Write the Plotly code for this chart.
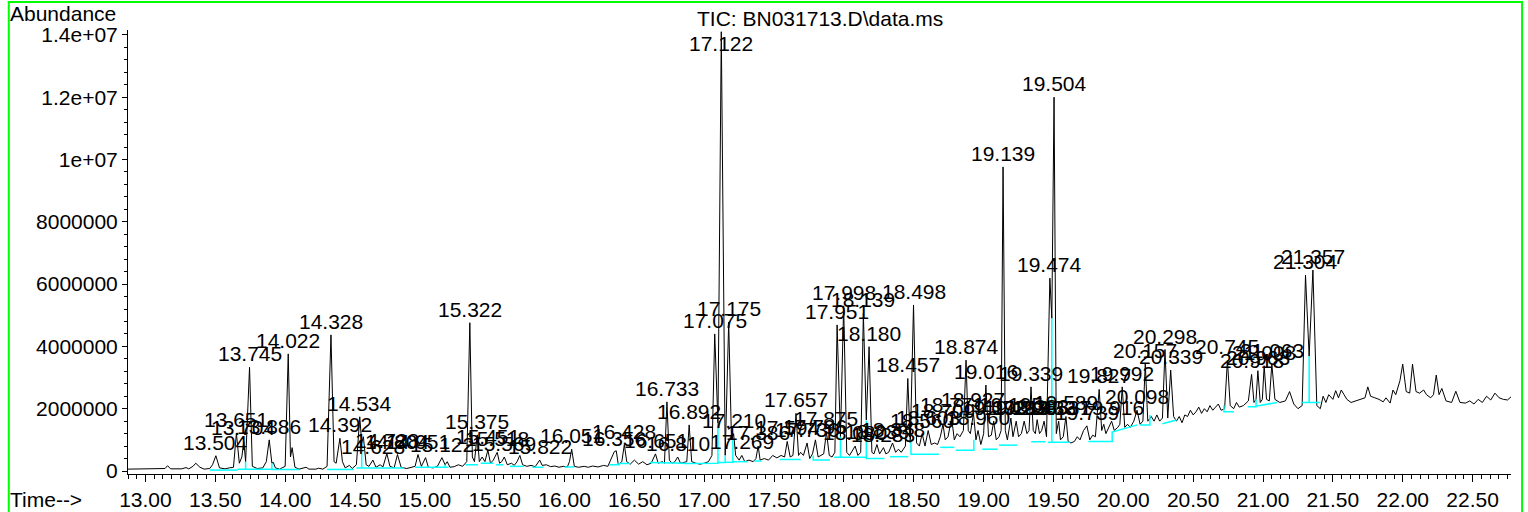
import plotly.graph_objects as go

# ---------------- data (time in min, abundance in millions) ----------------
tic_time = [
    12.875, 13.10, 13.14, 13.158, 13.18, 13.26, 13.29, 13.31, 13.34, 13.36,
    13.39, 13.42, 13.46, 13.48, 13.504, 13.53, 13.57, 13.60, 13.63, 13.651,
    13.672, 13.69, 13.704, 13.717, 13.745, 13.765, 13.80, 13.84, 13.865, 13.886,
    13.905, 13.915, 13.93, 13.96, 14.00, 14.022, 14.038, 14.05, 14.07, 14.10,
    14.15, 14.17, 14.22, 14.24, 14.27, 14.30, 14.328, 14.35, 14.365, 14.392,
    14.41, 14.43, 14.46, 14.48, 14.51, 14.534, 14.548, 14.56, 14.58, 14.60,
    14.628, 14.65, 14.68, 14.70, 14.728, 14.75, 14.78, 14.804, 14.83, 14.87,
    14.90, 14.93, 14.951, 14.975, 15.005, 15.025, 15.06, 15.09, 15.122, 15.145,
    15.16, 15.18, 15.21, 15.24, 15.27, 15.30, 15.322, 15.34, 15.355, 15.375,
    15.39, 15.41, 15.43, 15.451, 15.47, 15.49, 15.518, 15.535, 15.55, 15.569,
    15.59, 15.62, 15.64, 15.66, 15.68, 15.70, 15.73, 15.76, 15.79, 15.822,
    15.84, 15.87, 15.90, 15.93, 15.96, 15.99, 16.02, 16.035, 16.051, 16.07,
    16.10, 16.14, 16.17, 16.20, 16.24, 16.28, 16.31, 16.34, 16.356, 16.37,
    16.385, 16.41, 16.428, 16.445, 16.47, 16.50, 16.53, 16.56, 16.59, 16.62,
    16.651, 16.67, 16.70, 16.715, 16.733, 16.75, 16.77, 16.79, 16.81, 16.83,
    16.86, 16.875, 16.892, 16.91, 16.94, 16.97, 17.00, 17.03, 17.055, 17.075,
    17.098, 17.122, 17.15, 17.175, 17.195, 17.21, 17.225, 17.25, 17.269, 17.29,
    17.32, 17.35, 17.37, 17.386, 17.40, 17.43, 17.46, 17.49, 17.52, 17.55,
    17.575, 17.594, 17.615, 17.635, 17.657, 17.675, 17.69, 17.71, 17.736, 17.755,
    17.775, 17.796, 17.815, 17.84, 17.855, 17.875, 17.895, 17.915, 17.935, 17.951,
    17.975, 17.998, 18.02, 18.04, 18.06, 18.08, 18.10, 18.12, 18.139, 18.16,
    18.18, 18.20, 18.215, 18.236, 18.255, 18.283, 18.30, 18.32, 18.348, 18.37,
    18.39, 18.41, 18.44, 18.457, 18.475, 18.498, 18.52, 18.54, 18.56, 18.58,
    18.603, 18.625, 18.65, 18.67, 18.69, 18.709, 18.725, 18.745, 18.771, 18.79,
    18.81, 18.83, 18.855, 18.874, 18.89, 18.905, 18.927, 18.945, 18.96, 18.98,
    19.00, 19.016, 19.035, 19.055, 19.072, 19.09, 19.11, 19.125, 19.139, 19.155,
    19.17, 19.195, 19.21, 19.233, 19.25, 19.27, 19.29, 19.31, 19.325, 19.339,
    19.355, 19.37, 19.383, 19.40, 19.415, 19.433, 19.45, 19.474, 19.488, 19.504,
    19.52, 19.537, 19.55, 19.57, 19.589, 19.605, 19.625, 19.65, 19.67, 19.69,
    19.715, 19.739, 19.76, 19.78, 19.80, 19.827, 19.845, 19.86, 19.875, 19.895,
    19.916, 19.935, 19.96, 19.975, 19.992, 20.01, 20.03, 20.05, 20.075, 20.098,
    20.12, 20.14, 20.157, 20.175, 20.20, 20.22, 20.24, 20.26, 20.28, 20.298,
    20.318, 20.339, 20.36, 20.38, 20.40, 20.42, 20.44, 20.46, 20.48, 20.50,
    20.52, 20.54, 20.56, 20.58, 20.60, 20.62, 20.64, 20.66, 20.68, 20.70,
    20.725, 20.745, 20.765, 20.79, 20.81, 20.83, 20.86, 20.895, 20.918, 20.935,
    20.95, 20.963, 20.98, 20.995, 21.008, 21.025, 21.045, 21.063, 21.085, 21.12,
    21.16, 21.19, 21.22, 21.25, 21.28, 21.304, 21.33, 21.357, 21.385, 21.41,
    21.43, 21.45, 21.47, 21.50, 21.52, 21.54, 21.56, 21.58, 21.60, 21.63,
    21.66, 21.70, 21.73, 21.75, 21.77, 21.80, 21.83, 21.86, 21.88, 21.91,
    21.93, 21.95, 21.98, 22.00, 22.025, 22.05, 22.07, 22.095, 22.12, 22.15,
    22.17, 22.20, 22.22, 22.24, 22.26, 22.28, 22.31, 22.35, 22.38, 22.41,
    22.45, 22.48, 22.51, 22.54, 22.57, 22.60, 22.63, 22.66, 22.69, 22.72,
    22.75, 22.775,
]
tic_abund = [
    0.06, 0.06, 0.08, 0.17, 0.07, 0.07, 0.11, 0.07, 0.15, 0.25,
    0.12, 0.06, 0.08, 0.20, 0.49, 0.10, 0.07, 0.10, 0.12, 1.21,
    0.25, 0.45, 0.95, 0.30, 3.33, 0.15, 0.08, 0.10, 0.30, 1.00,
    0.25, 0.28, 0.10, 0.06, 0.15, 3.76, 0.45, 0.75, 0.12, 0.06,
    0.12, 0.06, 0.06, 0.09, 0.06, 0.15, 4.37, 0.30, 0.25, 1.05,
    0.30, 0.10, 0.18, 0.08, 0.20, 1.74, 0.90, 1.10, 0.20, 0.15,
    0.35, 0.12, 0.20, 0.13, 0.56, 0.15, 0.10, 0.53, 0.12, 0.08,
    0.12, 0.15, 0.53, 0.15, 0.43, 0.12, 0.10, 0.15, 0.43, 0.20,
    0.30, 0.12, 0.14, 0.20, 0.15, 0.30, 4.76, 0.45, 0.30, 1.16,
    0.30, 0.45, 0.30, 0.67, 0.25, 0.35, 0.60, 0.25, 0.30, 0.45,
    0.20, 0.25, 0.18, 0.30, 0.50, 0.20, 0.15, 0.18, 0.14, 0.35,
    0.18, 0.20, 0.14, 0.16, 0.12, 0.15, 0.13, 0.30, 0.70, 0.15,
    0.12, 0.15, 0.12, 0.16, 0.13, 0.18, 0.15, 0.45, 0.62, 0.65,
    0.20, 0.30, 0.85, 0.30, 0.22, 0.35, 0.22, 0.30, 0.20, 0.25,
    0.55, 0.25, 0.30, 0.25, 2.22, 0.35, 0.25, 0.30, 0.45, 0.25,
    0.28, 0.30, 1.48, 0.30, 0.25, 0.22, 0.25, 0.30, 0.50, 4.40,
    1.53, 14.10, 0.50, 4.78, 1.00, 1.20, 0.50, 0.35, 0.50, 0.30,
    0.35, 0.30, 0.40, 0.80, 0.35, 0.40, 0.35, 0.50, 0.42, 0.50,
    0.45, 0.95, 0.45, 0.50, 1.85, 0.50, 0.60, 0.50, 0.90, 0.40,
    0.55, 1.00, 0.45, 0.50, 0.55, 1.25, 0.50, 0.45, 0.60, 4.69,
    1.10, 5.30, 0.60, 0.50, 0.65, 0.80, 0.50, 0.60, 5.06, 1.64,
    3.99, 0.60, 0.55, 0.85, 0.55, 0.75, 0.55, 0.60, 0.90, 0.60,
    0.70, 0.60, 0.80, 2.97, 0.90, 5.33, 0.90, 0.80, 1.20, 0.80,
    1.30, 0.85, 0.90, 0.85, 1.10, 1.50, 1.00, 1.10, 1.70, 1.00,
    1.20, 1.10, 1.30, 3.56, 1.30, 1.20, 1.86, 1.00, 1.30, 0.85,
    1.20, 2.76, 1.10, 1.15, 1.60, 1.00, 1.10, 1.30, 9.76, 1.30,
    1.00, 1.70, 1.10, 1.60, 1.10, 1.20, 1.60, 1.20, 1.30, 2.70,
    1.30, 1.20, 1.65, 1.20, 1.30, 1.60, 1.10, 6.19, 4.90, 12.00,
    1.20, 1.60, 1.00, 1.10, 1.75, 0.95, 0.90, 0.95, 1.10, 1.00,
    1.30, 1.45, 1.00, 1.15, 1.10, 2.62, 1.30, 1.50, 1.20, 1.40,
    1.60, 1.30, 1.40, 1.50, 2.70, 1.40, 1.50, 1.40, 1.60, 1.95,
    1.50, 1.60, 3.45, 1.60, 1.75, 1.60, 1.80, 1.60, 1.70, 3.90,
    1.70, 3.24, 1.75, 1.60, 1.75, 1.55, 1.80, 1.75, 1.95, 1.80,
    1.90, 2.05, 1.85, 2.00, 1.90, 2.10, 1.95, 2.05, 2.15, 1.95,
    2.00, 3.55, 2.10, 2.00, 2.20, 2.05, 2.10, 2.25, 3.10, 2.20,
    2.30, 3.22, 2.20, 2.30, 3.38, 2.30, 2.25, 3.44, 2.30, 2.20,
    2.25, 2.55, 2.15, 2.00, 2.10, 6.29, 3.69, 6.45, 2.10, 2.00,
    2.40, 2.20, 2.45, 2.30, 2.58, 2.35, 2.60, 2.45, 2.30, 2.20,
    2.25, 2.30, 2.35, 2.70, 2.40, 2.35, 2.30, 2.22, 2.35, 2.18,
    2.60, 2.45, 2.90, 3.43, 2.55, 2.50, 3.43, 2.55, 2.50, 2.60,
    2.45, 2.35, 2.45, 3.08, 2.45, 2.65, 2.25, 2.20, 2.56, 2.20,
    2.18, 2.25, 2.15, 2.30, 2.20, 2.40, 2.28, 2.50, 2.35, 2.30,
    2.28, 2.38,
]

# integration baselines (cyan), None separates events
cyan_time = [
    13.46, 13.66, None,
    13.66, 13.717, 13.717, 13.717, 13.905, 13.905, 13.905, 14.10, None,
    14.30, 14.49, None,
    14.51, 14.548, 14.548, 14.548, 14.85, None,
    14.93, 15.145, 15.145, 15.145, 15.17, None,
    15.29, 15.38, None,
    15.40, 15.49, None,
    15.51, 15.56, None,
    15.61, 15.71, None,
    15.77, 15.85, None,
    16.00, 16.07, None,
    16.32, 16.39, 16.39, 16.47, None,
    16.61, 16.71, 16.71, 16.86, 16.86, 17.05, 17.05, 17.098, 17.098, 17.098,
    17.15, 17.15, 17.15, 17.205, 17.205, 17.205, 17.235, None,
    17.24, 17.31, None,
    17.36, 17.41, None,
    17.54, 17.69, None,
    17.78, 17.78, 17.90, None,
    17.93, 17.975, 17.975, 17.975, 18.16, 18.16, 18.16, 18.29, None,
    18.33, 18.46, None,
    18.48, 18.48, 18.68, None,
    18.69, 18.79, None,
    18.80, 18.93, 18.93, None,
    18.99, 19.10, None,
    19.11, 19.24, None,
    19.34, 19.44, None,
    19.46, 19.488, 19.488, 19.488, 19.62, None,
    19.75, 19.92, 19.92, 20.10, None,
    20.12, 20.19, 20.19, None,
    20.28, 20.38, None,
    20.72, 20.72, 20.79, None,
    20.89, 20.95, 20.95, 20.95, 21.10, None,
    21.28, 21.33, 21.33, 21.33, 21.41,
]
cyan_abund = [
    0.03, 0.03, None,
    0.06, 0.06, 0.30, 0.06, 0.06, 0.25, 0.05, 0.05, None,
    0.05, 0.05, None,
    0.10, 0.10, 0.90, 0.10, 0.10, None,
    0.12, 0.12, 0.20, 0.12, 0.12, None,
    0.20, 0.20, None,
    0.25, 0.25, None,
    0.20, 0.20, None,
    0.15, 0.15, None,
    0.12, 0.12, None,
    0.13, 0.13, None,
    0.20, 0.20, 0.24, 0.24, None,
    0.27, 0.27, 0.25, 0.25, 0.24, 0.24, 0.25, 0.25, 1.53, 0.27,
    0.27, 0.50, 0.28, 0.28, 1.05, 0.30, 0.30, None,
    0.30, 0.30, None,
    0.32, 0.32, None,
    0.37, 0.37, None,
    0.50, 0.35, 0.35, None,
    0.44, 0.44, 1.10, 0.44, 0.44, 1.62, 0.40, 0.40, None,
    0.46, 0.46, None,
    1.00, 0.54, 0.54, None,
    0.76, 0.76, None,
    0.67, 0.67, 1.00, None,
    0.70, 0.70, None,
    0.83, 0.83, None,
    0.94, 0.94, None,
    0.92, 0.92, 4.90, 0.92, 0.92, None,
    0.95, 0.95, 1.25, 1.48, None,
    1.48, 1.48, 1.80, None,
    1.52, 1.64, None,
    2.10, 1.90, 1.90, None,
    2.06, 2.06, 2.30, 2.08, 2.20, None,
    2.20, 2.20, 3.69, 2.20, 2.20,
]

# labelled retention times
label_times = [
    13.504, 13.651, 13.704, 13.745, 13.886, 14.022, 14.328, 14.392, 14.534, 14.628,
    14.728, 14.804, 14.951, 15.122, 15.322, 15.375, 15.451, 15.518, 15.569, 15.822,
    16.051, 16.356, 16.428, 16.651, 16.733, 16.81, 16.892, 17.075, 17.122, 17.175,
    17.21, 17.269, 17.386, 17.594, 17.657, 17.736, 17.796, 17.875, 17.951, 17.998,
    18.08, 18.139, 18.18, 18.236, 18.283, 18.348, 18.457, 18.498, 18.56, 18.603,
    18.709, 18.771, 18.874, 18.927, 18.96, 19.016, 19.072, 19.139, 19.195, 19.233,
    19.29, 19.339, 19.383, 19.433, 19.474, 19.504, 19.537, 19.589, 19.739, 19.827,
    19.916, 19.992, 20.098, 20.157, 20.298, 20.339, 20.745, 20.918, 20.963, 21.008,
    21.063, 21.304, 21.357,
]

x_tick_vals = [13.0, 13.5, 14.0, 14.5, 15.0, 15.5, 16.0, 16.5, 17.0, 17.5,
               18.0, 18.5, 19.0, 19.5, 20.0, 20.5, 21.0, 21.5, 22.0, 22.5]
y_tick_vals = [0, 2e6, 4e6, 6e6, 8e6, 1e7, 1.2e7, 1.4e7]
y_tick_text = ["0", "2000000", "4000000", "6000000", "8000000",
               "1e+07", "1.2e+07", "1.4e+07"]

title_text = "TIC: BN031713.D\\data.ms"
y_title = "Abundance"
x_title = "Time-->"

# ---------------------------------------------------------------------------
SCALE = 1e6
FONT = "Arial, Liberation Sans, sans-serif"
FS = 21
Y_MIN, Y_MAX = -9.6e4, 1.4156e7
X_MIN, X_MAX = 12.875, 22.775

tic_y = [v * SCALE for v in tic_abund]
cyan_y = [None if v is None else v * SCALE for v in cyan_abund]

fig = go.Figure()
fig.add_trace(go.Scatter(x=tic_time, y=tic_y, mode="lines",
                         line=dict(color="black", width=1), hoverinfo="skip",
                         showlegend=False))
fig.add_trace(go.Scatter(x=cyan_time, y=cyan_y, mode="lines",
                         line=dict(color="#00ffff", width=1.5), hoverinfo="skip",
                         showlegend=False, connectgaps=False))

annotations = []
for t in label_times:
    v = tic_y[tic_time.index(t)]
    if v > 0.93 * Y_MAX:
        annotations.append(dict(x=t, y=Y_MAX, xref="x", yref="y", text=f"{t:.3f}",
                                showarrow=False, xanchor="center", yanchor="top",
                                font=dict(family=FONT, size=FS, color="black")))
    else:
        annotations.append(dict(x=t, y=v, xref="x", yref="y", text=f"{t:.3f}",
                                showarrow=False, xanchor="center", yanchor="bottom",
                                font=dict(family=FONT, size=FS, color="black")))

annotations.append(dict(x=0.5, y=1.027, xref="paper", yref="paper", text=title_text,
                        showarrow=False, xanchor="center", yanchor="middle",
                        font=dict(family=FONT, size=FS, color="black")))
annotations.append(dict(x=-0.087, y=1.037, xref="paper", yref="paper", text=y_title,
                        showarrow=False, xanchor="left", yanchor="middle",
                        font=dict(family=FONT, size=FS, color="black")))
annotations.append(dict(x=-0.087, y=-0.058, xref="paper", yref="paper", text=x_title,
                        showarrow=False, xanchor="left", yanchor="middle",
                        font=dict(family=FONT, size=FS, color="black")))

fig.update_layout(
    width=1528, height=512, autosize=False,
    margin=dict(l=128, r=17, t=30, b=38, pad=0),
    paper_bgcolor="white", plot_bgcolor="white",
    annotations=annotations,
    shapes=[dict(type="rect", xref="paper", yref="paper",
                 x0=-0.0862, x1=1.0080, y0=-0.2, y1=1.0631,
                 line=dict(color="#00ff00", width=2), layer="above")],
    xaxis=dict(range=[X_MIN, X_MAX], tickvals=x_tick_vals,
               ticktext=[f"{v:.2f}" for v in x_tick_vals], automargin=False,
               showgrid=False, zeroline=False, showline=True, linecolor="black",
               linewidth=1, ticks="outside", ticklen=7, tickcolor="black",
               tickfont=dict(family=FONT, size=FS, color="black"),
               minor=dict(dtick=0.0625, ticks="outside", ticklen=4,
                          tickcolor="black", showgrid=False)),
    yaxis=dict(range=[Y_MIN, Y_MAX], tickvals=y_tick_vals, ticktext=y_tick_text,
               automargin=False,
               showgrid=False, zeroline=False, showline=True, linecolor="black",
               linewidth=1, ticks="outside", ticklen=5, tickcolor="black",
               tickfont=dict(family=FONT, size=FS, color="black"),
               minor=dict(dtick=4e5, ticks="outside", ticklen=3,
                          tickcolor="black", showgrid=False)),
)

fig.write_html("out.html",
               config={"displayModeBar": False, "responsive": False},
               post_script="document.body.style.margin='0';"
                           "document.body.style.overflow='hidden';")
